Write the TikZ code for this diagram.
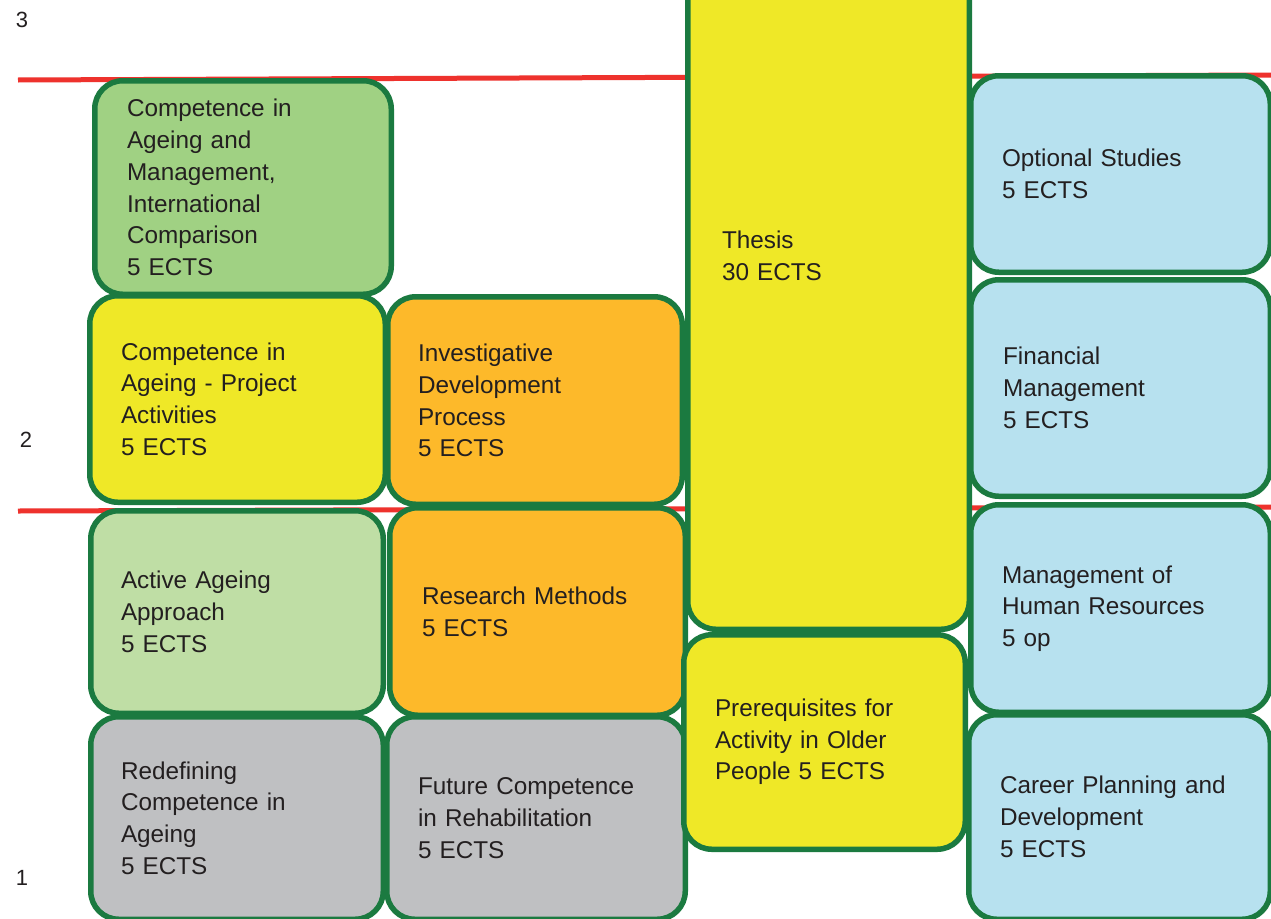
\documentclass[tikz,border=0pt]{standalone}
\usepackage{fontspec}
\setmainfont{Liberation Sans}
\definecolor{bordergreen}{RGB}{27,122,64}
\definecolor{fillgreenA}{RGB}{160,209,131}
\definecolor{fillgreenC}{RGB}{191,222,165}
\definecolor{fillyellow}{RGB}{239,232,39}
\definecolor{fillorange}{RGB}{253,185,42}
\definecolor{fillgray}{RGB}{191,192,194}
\definecolor{fillblue}{RGB}{183,225,239}
\definecolor{lineRed}{RGB}{238,50,45}
\definecolor{txt}{RGB}{35,31,32}
\tikzset{
  course/.style={draw=bordergreen, line width=5.5pt, rounded corners=28pt,
    inner xsep=0pt, inner ysep=0pt, align=left, text=txt,
    font=\fontsize{24.3}{31.7}\selectfont},
  level/.style={line width=5pt, draw=lineRed},
  lvlnum/.style={text=txt, font=\fontsize{22}{24}\selectfont, inner sep=0pt}
}
\begin{document}
\begin{tikzpicture}[x=1pt,y=-1pt]
\useasboundingbox (0,0) rectangle (1271,918);
\clip (0,0) rectangle (1271,918);
\fill[white] (0,0) rectangle (1271,918);
% level numbers
\node[lvlnum] (n3) at (22,20) {3};
\node[lvlnum] (n2) at (26,440) {2};
\node[lvlnum] (n1) at (22,878) {1};
% level lines
\coordinate (l1a) at (18,80);
\coordinate (l1b) at (1271,75);
\coordinate (l2a) at (18,511);
\coordinate (l2b) at (1271,507);
\draw[level] (l1a) -- (l1b);
\draw[level] (l2a) -- (l2b);
% column 1
\node[course, fill=fillgreenA, minimum width=296.5, minimum height=213.5, text width=232]
  (A) at (243,187.5) {Competence in\\Ageing and\\Management,\\International\\Comparison\\5 ECTS};
\node[course, fill=fillyellow, minimum width=295.5, minimum height=206.5, text width=233]
  (B) at (237.5,399) {Competence in\\Ageing - Project\\Activities\\5 ECTS};
\node[course, fill=fillgreenC, minimum width=292.5, minimum height=202.5, text width=232]
  (C) at (237,612) {Active Ageing\\Approach\\5 ECTS};
\node[course, fill=fillgray, minimum width=292.5, minimum height=202.5, text width=232]
  (D) at (237,818) {Redefining\\Competence in\\Ageing\\5 ECTS};
% column 2
\node[course, fill=fillorange, minimum width=294.5, minimum height=207.5, text width=234]
  (E) at (535,400.5) {Investigative\\Development\\Process\\5 ECTS};
\node[course, fill=fillorange, minimum width=295.5, minimum height=207.5, text width=231]
  (F) at (537.5,611.5) {Research Methods\\5 ECTS};
\node[course, fill=fillgray, minimum width=298.5, minimum height=202.5, text width=236]
  (G) at (536,818) {Future Competence\\in Rehabilitation\\5 ECTS};
% column 3
\node[course, fill=fillyellow, minimum width=281.5, minimum height=746.5, text width=213]
  (H) at (828.5,256) {Thesis\\30 ECTS};
\node[course, fill=fillyellow, minimum width=281.5, minimum height=214.5, text width=219]
  (I) at (824.5,742) {Prerequisites for\\Activity in Older\\People 5 ECTS};
% column 4
\node[course, fill=fillblue, minimum width=299.5, minimum height=196.5, text width=237]
  (J) at (1120.5,174) {Optional Studies\\5 ECTS};
\node[course, fill=fillblue, minimum width=299.5, minimum height=216.5, text width=235]
  (K) at (1120.5,388) {Financial\\Management\\5 ECTS};
\node[course, fill=fillblue, minimum width=299.5, minimum height=207.5, text width=237]
  (L) at (1120.5,608.5) {Management of\\Human Resources\\5 op};
\node[course, fill=fillblue, minimum width=301.5, minimum height=204.5, text width=239]
  (M) at (1119.5,817) {Career Planning and\\Development\\5 ECTS};
\end{tikzpicture}
\end{document}
